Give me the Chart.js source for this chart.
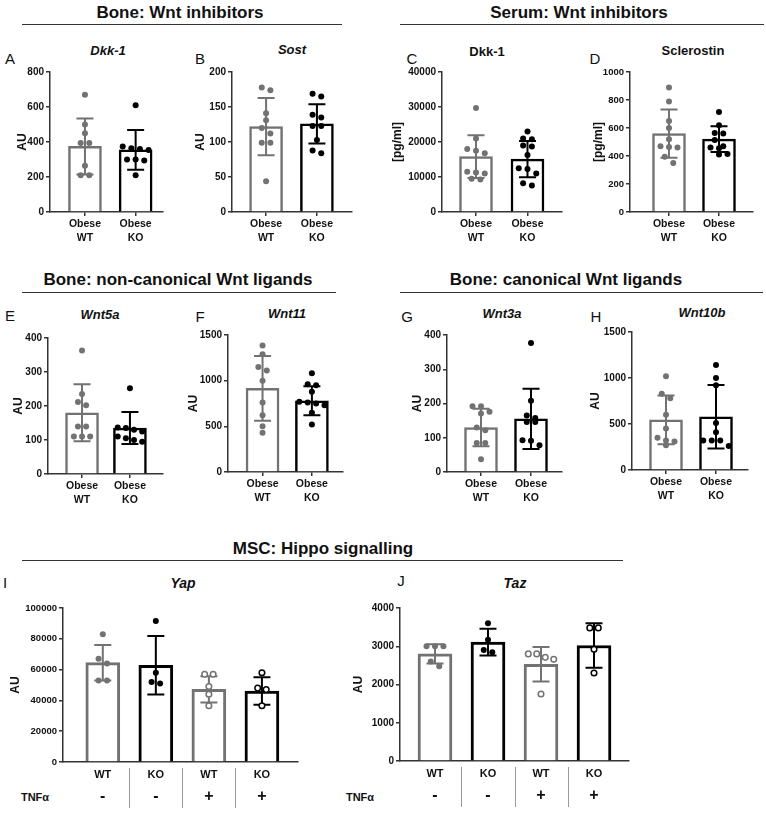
<!DOCTYPE html>
<html>
<head>
<meta charset="utf-8">
<script src="https://cdn.jsdelivr.net/npm/chart.js@4.4.1/dist/chart.umd.min.js"></script>
<style>
  body { margin: 0; background: #fff; }
  #page { position: relative; width: 766px; height: 815px; overflow: hidden; font-family: "Liberation Sans", Arial, sans-serif; color: #111; }
  canvas { position: absolute; }
  .txt { position: absolute; transform: translate(-50%, -50%); white-space: nowrap; }
  .hdr { font-weight: bold; font-size: 17px; }
  .ttl { font-weight: bold; font-size: 13px; }
  .ttl.it { font-style: italic; }
  .ttl.big { font-size: 14px; }
  .let { font-size: 15px; }
  .tnf { font-weight: bold; font-size: 11px; }
  .rule { position: absolute; height: 0; border-top: 1.5px solid #333; }
</style>
</head>
<body>
<div id="page"></div>
<script>
// ---- data ----
const cats2 = [['Obese', 'WT'], ['Obese', 'KO']]
const cats4 = ['WT', 'KO', 'WT', 'KO']
const tnfSigns = ['-', '-', '+', '+']

// A  Bone Dkk-1
const boneDkk1WT = [670, 500, 450, 395, 395, 265, 210, 210]
const boneDkk1KO = [610, 375, 365, 360, 355, 300, 300, 295, 210]
const boneDkk1Mean = [375, 355]
const boneDkk1SD = [160, 113]
// B  Bone Sost
const sostWT = [178, 174, 141, 131, 120, 112, 99, 99, 44]
const sostKO = [169, 165, 139, 135, 123, 123, 103, 88, 84]
const sostMean = [122, 126]
const sostSD = [41, 28]
// C  Serum Dkk-1
const serumDkk1WT = [29700, 21000, 18000, 17500, 16800, 11500, 11300, 11000, 9500, 9300]
const serumDkk1KO = [23000, 21000, 20800, 19000, 18700, 16300, 12500, 12300, 11000, 8200, 7600]
const serumDkk1Mean = [15800, 15100]
const serumDkk1SD = [6100, 5200]
// D  Serum Sclerostin
const sclWT = [890, 790, 650, 600, 520, 470, 465, 460, 395, 350]
const sclKO = [715, 620, 565, 560, 515, 470, 460, 455, 415, 410]
const sclMean = [560, 520]
const sclSD = [172, 92]
// E  Wnt5a
const wnt5aWT = [363, 235, 212, 202, 140, 140, 110, 110, 110]
const wnt5aKO = [252, 137, 135, 130, 125, 110, 105, 100, 95]
const wnt5aMean = [180, 135]
const wnt5aSD = [84, 47]
// F  Wnt11
const wnt11WT = [1385, 1290, 1150, 1110, 1000, 760, 620, 500, 430]
const wnt11KO = [1080, 960, 950, 880, 770, 760, 750, 730, 650, 520]
const wnt11Mean = [915, 780]
const wnt11SD = [355, 160]
// G  Wnt3a
const wnt3aWT = [192, 192, 176, 171, 130, 122, 85, 85, 37]
const wnt3aKO = [377, 208, 165, 158, 146, 146, 93, 91, 78]
const wnt3aMean = [130, 155]
const wnt3aSD = [55, 88]
// H  Wnt10b
const wnt10bWT = [1020, 830, 780, 600, 450, 350, 320, 310, 270]
const wnt10bKO = [1140, 1000, 920, 510, 410, 320, 320, 320, 260]
const wnt10bMean = [545, 578]
const wnt10bSD = [265, 345]
// I  Yap  (WT-, KO-, WT+, KO+)
const yapWTminus = [83000, 67000, 64000, 53000, 53000]
const yapKOminus = [91500, 58000, 52000, 51000]
const yapWTplus = [57000, 57000, 49000, 44000, 36500]
const yapKOplus = [58000, 48000, 47000, 36500]
const yapMean = [64500, 62800, 47200, 46100]
const yapSD = [11500, 19000, 8500, 9000]
// J  Taz
const tazWTminus = [3000, 3000, 3000, 2600, 2480]
const tazKOminus = [3600, 3170, 2900, 2840]
const tazWTplus = [2800, 2800, 2710, 2660, 1750]
const tazKOplus = [3480, 3480, 2920, 2300]
const tazMean = [2800, 3110, 2530, 3020]
const tazSD = [250, 350, 450, 580]

// ---- styling / layout ----
const GREY = '#727272'
const BLACK = '#000'
const FONT = '"Liberation Sans", Arial, sans-serif'

const panels = [
  { letter: 'A', lx: 10, ly: 58, title: 'Dkk-1', it: true, tx: 108, ty: 50, yLabel: 'AU', yMax: 800, yStep: 200,
    groups: [boneDkk1WT, boneDkk1KO], mean: boneDkk1Mean, sd: boneDkk1SD,
    box: { auX: 22, axisX: 50, right: 163, top: 72, bottom: 212 }, xMin: 0.31, xMax: 2.54 },
  { letter: 'B', lx: 200, ly: 58, title: 'Sost', it: true, tx: 292, ty: 49, yLabel: 'AU', yMax: 200, yStep: 50,
    groups: [sostWT, sostKO], mean: sostMean, sd: sostSD,
    box: { auX: 200, axisX: 232, right: 352, top: 72, bottom: 212 }, xMin: 0.33, xMax: 2.69 },
  { letter: 'C', lx: 412, ly: 58, title: 'Dkk-1', it: false, tx: 487, ty: 51, yLabel: '[pg/ml]', yMax: 40000, yStep: 10000,
    groups: [serumDkk1WT, serumDkk1KO], mean: serumDkk1Mean, sd: serumDkk1SD,
    box: { auX: 397, axisX: 442, right: 562, top: 72, bottom: 212 }, xMin: 0.34, xMax: 2.67 },
  { letter: 'D', lx: 595, ly: 58, title: 'Sclerostin', it: false, tx: 693, ty: 50, yLabel: '[pg/ml]', yMax: 1000, yStep: 200,
    groups: [sclWT, sclKO], mean: sclMean, sd: sclSD, tickSize: 9.5,
    box: { auX: 598, axisX: 630, right: 753, top: 72, bottom: 212 }, xMin: 0.22, xMax: 2.68 },
  { letter: 'E', lx: 10, ly: 315, title: 'Wnt5a', it: true, tx: 100, ty: 314, yLabel: 'AU', yMax: 400, yStep: 100,
    groups: [wnt5aWT, wnt5aKO], mean: wnt5aMean, sd: wnt5aSD,
    box: { auX: 18, axisX: 48, right: 163, top: 338, bottom: 474 }, xMin: 0.29, xMax: 2.69 },
  { letter: 'F', lx: 200, ly: 316, title: 'Wnt11', it: true, tx: 287, ty: 313, yLabel: 'AU', yMax: 1500, yStep: 500,
    groups: [wnt11WT, wnt11KO], mean: wnt11Mean, sd: wnt11SD,
    box: { auX: 193, axisX: 228, right: 343, top: 335, bottom: 472 }, xMin: 0.30, xMax: 2.63 },
  { letter: 'G', lx: 407, ly: 316, title: 'Wnt3a', it: true, tx: 502, ty: 313, yLabel: 'AU', yMax: 400, yStep: 100,
    groups: [wnt3aWT, wnt3aKO], mean: wnt3aMean, sd: wnt3aSD,
    box: { auX: 417, axisX: 447, right: 562, top: 335, bottom: 472 }, xMin: 0.32, xMax: 2.62 },
  { letter: 'H', lx: 596, ly: 316, title: 'Wnt10b', it: true, tx: 702, ty: 312, yLabel: 'AU', yMax: 1500, yStep: 500,
    groups: [wnt10bWT, wnt10bKO], mean: wnt10bMean, sd: wnt10bSD,
    box: { auX: 595, axisX: 632, right: 748, top: 332, bottom: 470 }, xMin: 0.32, xMax: 2.64 },
  { letter: 'I', lx: 5, ly: 582, title: 'Yap', it: true, big: true, tx: 183, ty: 583, yLabel: 'AU', yMax: 100000, yStep: 20000,
    groups: [yapWTminus, yapKOminus, yapWTplus, yapKOplus], mean: yapMean, sd: yapSD, tickSize: 9.5,
    box: { auX: 15, axisX: 63, right: 298, top: 608, bottom: 762 }, xMin: 0.25, xMax: 4.68, tnfX: 35 },
  { letter: 'J', lx: 401, ly: 580, title: 'Taz', it: true, big: true, tx: 515, ty: 583, yLabel: 'AU', yMax: 4000, yStep: 1000,
    groups: [tazWTminus, tazKOminus, tazWTplus, tazKOplus], mean: tazMean, sd: tazSD,
    box: { auX: 358, axisX: 400, right: 629, top: 608, bottom: 761 }, xMin: 0.34, xMax: 4.66, tnfX: 360 },
]

const headers = [
  { text: 'Bone: Wnt inhibitors', x: 180, y: 13, x0: 22, x1: 342, ly: 24 },
  { text: 'Serum: Wnt inhibitors', x: 579, y: 13, x0: 400, x1: 764, ly: 24 },
  { text: 'Bone: non-canonical Wnt ligands', x: 178, y: 280, x0: 22, x1: 336, ly: 292 },
  { text: 'Bone: canonical Wnt ligands', x: 566, y: 280, x0: 400, x1: 763, ly: 292 },
  { text: 'MSC: Hippo signalling', x: 323, y: 549, x0: 22, x1: 623, ly: 560 },
]

const page = document.getElementById('page')

function addText(cls, text, x, y) {
  const d = document.createElement('div')
  d.className = 'txt ' + cls
  d.textContent = text
  d.style.left = x + 'px'
  d.style.top = y + 'px'
  page.appendChild(d)
}

headers.forEach(h => {
  addText('hdr', h.text, h.x, h.y)
  const r = document.createElement('div')
  r.className = 'rule'
  r.style.left = h.x0 + 'px'
  r.style.top = h.ly + 'px'
  r.style.width = (h.x1 - h.x0) + 'px'
  page.appendChild(r)
})

// spread points with (nearly) equal values side by side, like a scatter dot plot
function swarm(values, thr, step) {
  const order = values.map((v, i) => i).sort((a, b) => values[b] - values[a])
  const offs = new Array(values.length).fill(0)
  let row = []
  const flush = () => {
    row.forEach((k, j) => { offs[k] = (j - (row.length - 1) / 2) * step })
    row = []
  }
  order.forEach(k => {
    if (row.length && values[row[0]] - values[k] > thr) flush()
    row.push(k)
  })
  flush()
  return offs
}

const errorBars = {
  id: 'errorBars',
  afterDatasetDraw(chart, args, opts) {
    if (args.meta.type !== 'bar') return
    const xs = chart.scales.x, ys = chart.scales.y, ctx = chart.ctx
    ctx.save()
    ctx.lineWidth = 2
    opts.mean.forEach((m, i) => {
      const x = xs.getPixelForValue(i + 1)
      const yt = ys.getPixelForValue(m + opts.sd[i])
      const yb = ys.getPixelForValue(m - opts.sd[i])
      ctx.strokeStyle = opts.colors[i]
      ctx.beginPath()
      ctx.moveTo(x, yb); ctx.lineTo(x, yt)
      ctx.moveTo(x - opts.cap / 2, yt); ctx.lineTo(x + opts.cap / 2, yt)
      ctx.moveTo(x - opts.cap / 2, yb); ctx.lineTo(x + opts.cap / 2, yb)
      ctx.stroke()
    })
    ctx.restore()
  }
}

// TNFα row: separators and +/- signs under each group
const tnfRow = {
  id: 'tnfRow',
  afterDraw(chart, args, opts) {
    if (!opts.show) return
    const xs = chart.scales.x, ctx = chart.ctx
    const b = chart.chartArea.bottom
    ctx.save()
    ctx.strokeStyle = '#9a9a9a'
    ctx.lineWidth = 1
    ;[1.5, 2.5, 3.5].forEach(v => {
      const x = Math.round(xs.getPixelForValue(v)) + 0.5
      ctx.beginPath()
      ctx.moveTo(x, b + 6); ctx.lineTo(x, b + 46)
      ctx.stroke()
    })
    ctx.fillStyle = '#111'
    ctx.font = 'bold 16px ' + FONT
    ctx.textAlign = 'center'
    ctx.textBaseline = 'middle'
    tnfSigns.forEach((s, i) => {
      ctx.fillText(s, xs.getPixelForValue(i + 1), b + 35)
    })
    ctx.restore()
  }
}

panels.forEach(p => {
  const four = p.groups.length === 4
  const cats = four ? cats4 : cats2
  const colors = p.groups.map((g, i) => i % 2 === 0 ? GREY : BLACK)
  const L = p.box.auX - 7
  const T = p.box.top - 12
  const W = p.box.right - L + 6
  const below = four ? 52 : 40
  const H = p.box.bottom - T + below

  addText('let', p.letter, p.lx, p.ly)
  addText('ttl' + (p.it ? ' it' : '') + (p.big ? ' big' : ''), p.title, p.tx, p.ty)
  if (four) addText('tnf', 'TNF\u03b1', p.tnfX, 797)

  const cv = document.createElement('canvas')
  cv.width = W; cv.height = H
  cv.style.left = L + 'px'; cv.style.top = T + 'px'
  cv.style.width = W + 'px'; cv.style.height = H + 'px'
  page.appendChild(cv)

  const thr = p.yMax * 0.045
  const step = four ? 0.16 : 0.17
  const datasets = [{
    type: 'bar',
    data: p.mean.map((m, i) => ({ x: i + 1, y: m })),
    backgroundColor: '#fff',
    borderColor: colors,
    borderWidth: four ? 3 : 2.5,
    barThickness: four ? 34 : 33,
    order: 2,
  }]
  p.groups.forEach((g, i) => {
    const offs = swarm(g, thr, step)
    const open = four && i >= 2
    datasets.push({
      type: 'scatter',
      data: g.map((v, k) => ({ x: i + 1 + offs[k], y: v })),
      pointRadius: open ? 2.8 : 3,
      pointBackgroundColor: open ? '#fff' : colors[i],
      pointBorderColor: colors[i],
      pointBorderWidth: open ? 1.5 : 0,
      order: 1,
    })
  })

  new Chart(cv, {
    type: 'bar',
    data: { datasets },
    options: {
      responsive: false,
      animation: false,
      events: [],
      layout: { padding: { left: 0, top: 12, right: 6, bottom: 0 } },
      plugins: {
        legend: { display: false },
        tooltip: { enabled: false },
        errorBars: { mean: p.mean, sd: p.sd, colors, cap: 17 },
        tnfRow: { show: four },
      },
      scales: {
        x: {
          type: 'linear',
          offset: false,
          min: p.xMin,
          max: p.xMax,
          afterBuildTicks: s => { s.ticks = cats.map((c, i) => ({ value: i + 1 })) },
          afterFit: s => { s.height = H - (p.box.bottom - T) },
          grid: { display: true, offset: false, drawOnChartArea: false, drawTicks: !four, tickLength: 4, color: '#333', lineWidth: 1.5 },
          border: { display: true, color: '#333', width: 1.5 },
          ticks: {
            autoSkip: false,
            maxRotation: 0,
            padding: four ? 6 : 2,
            color: '#111',
            font: four ? { family: FONT, size: 11, weight: 'bold', lineHeight: 1.2 }
                       : { family: FONT, size: 10.5, weight: 'bold', lineHeight: 1.25 },
            callback: v => cats[Math.round(v) - 1],
          },
        },
        y: {
          min: 0,
          max: p.yMax,
          afterFit: s => { s.width = p.box.axisX - L },
          grid: { display: true, drawOnChartArea: false, tickLength: 4, color: '#333', lineWidth: 1.5 },
          border: { display: true, color: '#333', width: 1.5 },
          ticks: { stepSize: p.yStep, padding: 2, color: '#111', font: { family: FONT, size: p.tickSize || 10, weight: 'bold' },
                   callback: v => String(v) },
          title: { display: true, text: p.yLabel, padding: 0, color: '#111', font: { family: FONT, size: 12, weight: 'bold' } },
        },
      },
    },
    plugins: [errorBars, tnfRow],
  })
})
</script>
</body>
</html>
